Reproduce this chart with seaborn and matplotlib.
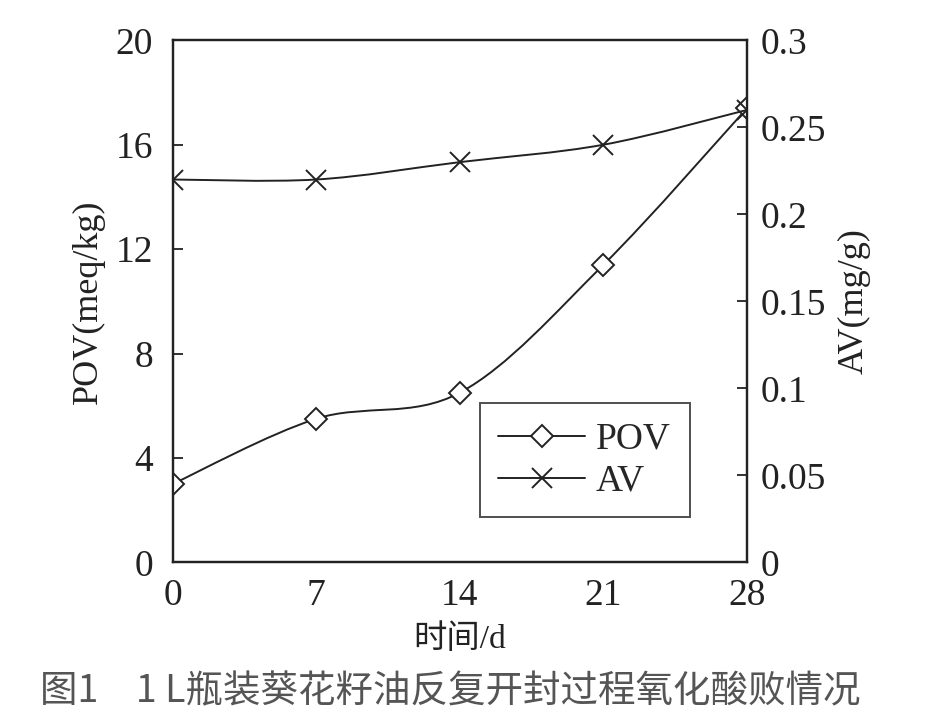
import numpy as np
import pandas as pd
import matplotlib
matplotlib.use("Agg")
import matplotlib.pyplot as plt
import seaborn as sns
from matplotlib.path import Path
from matplotlib.patches import PathPatch
from matplotlib.lines import Line2D

days = [0, 7, 14, 21, 28]
pov = [3.0, 5.5, 6.5, 11.4, 17.4]
av = [0.22, 0.22, 0.23, 0.24, 0.26]
pov_ticks = [0, 4, 8, 12, 16, 20]
av_ticks = [0, 0.05, 0.1, 0.15, 0.2, 0.25, 0.3]
av_labels = ["0", "0.05", "0.1", "0.15", "0.2", "0.25", "0.3"]
caption = "图1　1 L瓶装葵花籽油反复开封过程氧化酸败情况"

sns.set_theme(style="white")
plt.rcParams['font.family'] = ['Liberation Serif', 'Noto Sans CJK SC']
plt.rcParams['axes.unicode_minus'] = False


def smooth_path(x, y):
    # catmull-rom control points -> cubic bezier segments
    x = np.asarray(x, float)
    y = np.asarray(y, float)
    verts = [(x[0], y[0])]
    codes = [Path.MOVETO]
    n = len(x)
    for i in range(n - 1):
        p0 = (x[max(i - 1, 0)], y[max(i - 1, 0)])
        p1 = (x[i], y[i])
        p2 = (x[i + 1], y[i + 1])
        p3 = (x[min(i + 2, n - 1)], y[min(i + 2, n - 1)])
        c1 = (p1[0] + (p2[0] - p0[0]) / 6, p1[1] + (p2[1] - p0[1]) / 6)
        c2 = (p2[0] - (p3[0] - p1[0]) / 6, p2[1] - (p3[1] - p1[1]) / 6)
        verts += [c1, c2, p2]
        codes += [Path.CURVE4] * 3
    return Path(verts, codes)


fig = plt.figure(figsize=(9.28, 7.2), dpi=100)
ax = fig.add_axes([0.186, 0.219, 0.619, 0.725])
ax2 = ax.twinx()

df = pd.DataFrame({"day": days, "POV": pov, "AV": av})

ink = "#222222"
ax.add_patch(PathPatch(smooth_path(days, pov), fill=False, color=ink, lw=1.4, zorder=2))
ax2.add_patch(PathPatch(smooth_path(days, av), fill=False, color=ink, lw=1.4, zorder=2))

sns.lineplot(data=df, x="day", y="POV", ax=ax, marker="D", markersize=11,
             markerfacecolor="white", markeredgecolor=ink, markeredgewidth=1.4,
             linestyle="", color=ink, zorder=3)
sns.lineplot(data=df, x="day", y="AV", ax=ax2, marker="x", markersize=14,
             markeredgecolor=ink, markeredgewidth=1.4,
             linestyle="", color=ink, zorder=3)

ax.set_xlim(0, 28)
ax.set_ylim(0, 20)
ax2.set_ylim(0, 0.3)
ax.set_xticks(days)
ax.set_yticks(pov_ticks)
ax2.set_yticks(av_ticks)
ax2.set_yticklabels(av_labels)

for a in (ax, ax2):
    for s in a.spines.values():
        s.set_color(ink)
        s.set_linewidth(1.6)
ax.tick_params(axis="both", direction="in", length=7, width=1.3, color=ink,
               labelsize=27, labelcolor=ink, pad=14)
ax.tick_params(axis="x", pad=12)
ax2.tick_params(axis="y", direction="in", length=7, width=1.3, color=ink,
                labelsize=27, labelcolor=ink, pad=10)

ax.set_xlabel("时间/d", fontsize=24, color=ink, labelpad=8)
ax.set_ylabel("POV(meq/kg)", fontsize=26, color=ink, labelpad=8)
ax2.set_ylabel("AV(mg/g)", fontsize=26, color=ink, rotation=90, labelpad=8)

handles = [
    Line2D([], [], color=ink, lw=1.4, marker="D", markersize=11,
           markerfacecolor="white", markeredgecolor=ink, markeredgewidth=1.4),
    Line2D([], [], color=ink, lw=1.4, marker="x", markersize=14,
           markeredgewidth=1.4),
]
leg = ax.legend(handles, ["POV", "AV"], loc="lower right", bbox_to_anchor=(0.90, 0.086),
                borderaxespad=0, fontsize=27, frameon=True, fancybox=False, edgecolor=ink,
                handlelength=2.3, handletextpad=0.3, borderpad=0.5, labelspacing=0.2,
                numpoints=1)
leg.get_frame().set_linewidth(1.4)

fig.text(0.043, 0.012, caption, fontsize=27, color="#555555",
         family=["Noto Sans CJK SC", "DejaVu Sans"], ha="left", va="bottom")

fig.savefig("out.png", dpi=100, facecolor="white")
